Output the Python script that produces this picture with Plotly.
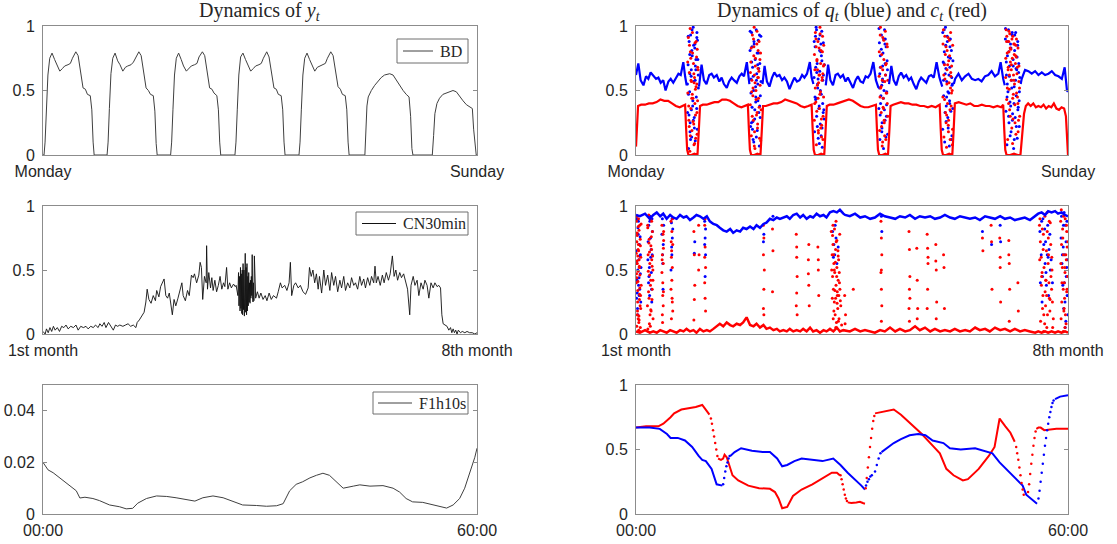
import plotly.graph_objects as go

# ---------------- DATA ----------------
# Top-left: BD (hours from Monday 00:00)
bd_hours = [0.0, 0.4, 0.8, 1.3, 1.9, 2.6, 3.5, 4.5, 5.4, 6.5, 7.5, 8.4, 9.7, 10.6, 11.4, 12.7, 13.6, 14.5, 15.5, 16.4, 17.2, 18.3, 18.9, 19.4, 19.8,
            24.8, 25.2, 25.7, 26.3, 27.0, 27.9, 28.9, 29.8, 30.9, 31.9, 32.8, 34.1, 35.0, 35.8, 37.1, 38.0, 38.9, 39.9, 40.8, 41.6, 42.7, 43.3, 43.8, 44.2,
            49.4, 49.8, 50.3, 50.9, 51.6, 52.5, 53.5, 54.4, 55.5, 56.5, 57.4, 58.7, 59.6, 60.4, 61.7, 62.6, 63.5, 64.5, 65.4, 66.2, 67.3, 67.9, 68.4, 68.8,
            74.3, 74.7, 75.2, 75.8, 76.5, 77.4, 78.4, 79.3, 80.4, 81.4, 82.3, 83.6, 84.5, 85.3, 86.6, 87.5, 88.4, 89.4, 90.3, 91.1, 92.2, 92.8, 93.3, 93.7,
            99.1, 99.5, 100.0, 100.6, 101.3, 102.2, 103.2, 104.1, 105.2, 106.2, 107.1, 108.4, 109.3, 110.1, 111.4, 112.3, 113.2, 114.2, 115.1, 115.9, 117.0, 117.6, 118.1, 118.5,
            124.6, 125.0, 125.4, 125.9, 127.1, 128.4, 129.7, 130.9, 132.2, 134.2, 135.5, 136.8, 138.1, 139.4, 140.6, 141.7, 142.3, 142.8, 143.2,
            150.7, 151.2, 151.7, 152.5, 153.5, 154.8, 156.1, 157.4, 158.7, 160.0, 161.3, 162.6, 163.9, 165.2, 166.2, 166.7, 167.4, 167.7, 168.0]
bd_values = [0.0, 0.0, 0.1, 0.35, 0.62, 0.75, 0.79, 0.74, 0.70, 0.65, 0.67, 0.69, 0.70, 0.71, 0.75, 0.80, 0.77, 0.66, 0.52, 0.51, 0.47, 0.46, 0.35, 0.10, 0.0,
             0.0, 0.1, 0.36, 0.63, 0.75, 0.79, 0.73, 0.70, 0.65, 0.68, 0.69, 0.70, 0.72, 0.75, 0.80, 0.77, 0.65, 0.52, 0.50, 0.47, 0.46, 0.34, 0.09, 0.0,
             0.0, 0.1, 0.35, 0.62, 0.75, 0.79, 0.74, 0.69, 0.65, 0.67, 0.69, 0.70, 0.71, 0.76, 0.80, 0.77, 0.66, 0.52, 0.51, 0.48, 0.46, 0.35, 0.10, 0.0,
             0.0, 0.1, 0.35, 0.62, 0.76, 0.79, 0.74, 0.70, 0.65, 0.67, 0.69, 0.70, 0.71, 0.75, 0.80, 0.76, 0.66, 0.52, 0.51, 0.47, 0.46, 0.35, 0.10, 0.0,
             0.0, 0.1, 0.35, 0.62, 0.75, 0.79, 0.74, 0.70, 0.65, 0.68, 0.69, 0.70, 0.71, 0.75, 0.80, 0.77, 0.66, 0.53, 0.51, 0.47, 0.46, 0.35, 0.10, 0.0,
             0.0, 0.15, 0.38, 0.45, 0.50, 0.54, 0.57, 0.60, 0.62, 0.63, 0.62, 0.58, 0.53, 0.50, 0.47, 0.45, 0.30, 0.05, 0.0,
             0.0, 0.15, 0.32, 0.40, 0.44, 0.47, 0.48, 0.49, 0.50, 0.49, 0.45, 0.42, 0.39, 0.37, 0.36, 0.20, 0.02, 0.0, 0.0]

# Top-right: q_t (blue) line, daytime segments
tr_blue_x = [0.0, 0.9, 1.8, 2.9, 3.9, 4.8, 5.7, 6.7, 7.8, 8.7, 9.6, 10.6, 11.5, 12.6, 13.5, 14.5, 15.6, 16.5, 17.4, 18.4, 19.1, 19.7, None,
             24.5, 25.5, 26.4, 27.4, 28.5, 29.4, 30.3, 31.4, 32.4, 33.3, 34.2, 35.3, 36.2, 37.2, 38.1, 39.2, 40.2, 41.1, 42.0, 43.1, 43.8, 44.1, None,
             49.2, 50.0, 50.9, 51.9, 52.9, 53.8, 54.8, 55.8, 56.8, 57.7, 58.7, 59.7, 60.7, 61.6, 62.6, 63.6, 64.6, 65.5, 66.5, 67.6, 68.3, 69.0, None,
             73.8, 74.7, 75.6, 76.6, 77.6, 78.5, 79.5, 80.5, 81.5, 82.4, 83.4, 84.4, 85.4, 86.3, 87.3, 88.3, 89.3, 90.2, 91.2, 92.3, 93.3, 94.3, None,
             98.4, 99.3, 100.2, 101.2, 102.2, 103.1, 104.1, 105.1, 106.1, 107.0, 108.0, 109.0, 110.0, 110.9, 111.9, 112.9, 113.9, 114.8, 115.8, 116.9, 118.0, 119.1, None,
             123.6, 124.1, 125.4, 126.7, 128.0, 129.3, 130.6, 131.9, 133.1, 134.4, 135.7, 137.0, 138.3, 139.6, 140.9, 141.8, 142.8, 143.4, None,
             149.6, 150.0, 151.3, 152.6, 153.9, 155.2, 156.5, 157.8, 159.1, 160.4, 161.7, 163.0, 164.3, 165.6, 166.7, 167.6, 168.0]
tr_blue_y = [0.62, 0.71, 0.58, 0.54, 0.61, 0.59, 0.64, 0.62, 0.59, 0.60, 0.56, 0.58, 0.50, 0.57, 0.59, 0.56, 0.60, 0.63, 0.62, 0.72, 0.61, 0.54, None,
             0.53, 0.70, 0.58, 0.55, 0.62, 0.63, 0.60, 0.62, 0.57, 0.60, 0.55, 0.52, 0.57, 0.60, 0.58, 0.56, 0.61, 0.63, 0.61, 0.72, 0.60, 0.55, None,
             0.55, 0.69, 0.57, 0.53, 0.60, 0.64, 0.61, 0.62, 0.58, 0.60, 0.57, 0.51, 0.56, 0.60, 0.57, 0.58, 0.62, 0.60, 0.63, 0.72, 0.60, 0.55, None,
             0.54, 0.70, 0.58, 0.54, 0.62, 0.63, 0.60, 0.62, 0.57, 0.60, 0.56, 0.52, 0.58, 0.61, 0.57, 0.56, 0.61, 0.60, 0.63, 0.72, 0.58, 0.52, None,
             0.55, 0.69, 0.58, 0.54, 0.61, 0.64, 0.60, 0.62, 0.58, 0.60, 0.55, 0.51, 0.57, 0.60, 0.58, 0.56, 0.61, 0.62, 0.60, 0.72, 0.60, 0.53, None,
             0.55, 0.59, 0.63, 0.58, 0.61, 0.63, 0.59, 0.58, 0.59, 0.57, 0.61, 0.62, 0.65, 0.61, 0.63, 0.72, 0.59, 0.54, None,
             0.55, 0.59, 0.66, 0.65, 0.63, 0.65, 0.62, 0.64, 0.62, 0.63, 0.65, 0.62, 0.61, 0.59, 0.68, 0.50, 0.49]

# Top-right: c_t (red) line
tr_red_x = [0.0, 0.4, 0.8, 2.0, 3.5, 5.0, 6.5, 8.0, 9.5, 11.0, 12.5, 14.0, 15.5, 17.0, 18.3, 19.1, 19.5, 19.9, 20.4, 21.5, 22.7, 23.9, 24.4, 24.9,
            26.0, 27.5, 29.0, 30.5, 32.0, 33.5, 35.0, 36.5, 38.0, 39.5, 41.0, 42.5, 43.5, 43.9, 44.3, 44.8, 46.0, 47.2, 48.4, 48.9, 49.4,
            50.5, 52.0, 53.5, 55.0, 56.5, 58.0, 59.5, 61.0, 62.5, 64.0, 65.5, 67.0, 68.3, 68.7, 69.1, 69.6, 70.8, 72.0, 73.2, 73.7, 74.2,
            75.3, 76.8, 78.3, 79.8, 81.3, 82.8, 84.3, 85.8, 87.3, 88.8, 90.3, 91.8, 93.3, 93.7, 94.1, 94.6, 95.8, 97.0, 98.0, 98.5, 99.0,
            100.0, 101.5, 103.0, 104.5, 106.0, 107.5, 109.0, 110.5, 112.0, 113.5, 115.0, 116.5, 118.1, 118.5, 118.9, 119.4, 120.6, 121.8, 123.0, 123.5, 124.0,
            125.5, 127.0, 128.5, 130.0, 131.5, 133.0, 134.5, 136.0, 137.5, 139.0, 140.5, 142.0, 142.8, 143.2, 143.6, 144.1, 145.5, 147.0, 148.5, 149.5, 150.2, 150.9, 151.6,
            152.5, 153.5, 154.5, 155.5, 156.5, 157.5, 158.5, 159.5, 160.5, 161.5, 162.5, 163.5, 164.5, 165.5, 166.5, 167.2, 167.6, 168.0]
tr_red_y = [0.065, 0.25, 0.38, 0.39, 0.39, 0.40, 0.40, 0.41, 0.43, 0.42, 0.42, 0.40, 0.38, 0.37, 0.38, 0.39, 0.20, 0.04, 0.0, 0.0, 0.01, 0.0, 0.18, 0.38,
            0.39, 0.39, 0.40, 0.41, 0.41, 0.43, 0.43, 0.42, 0.40, 0.38, 0.37, 0.38, 0.39, 0.20, 0.04, 0.0, 0.0, 0.01, 0.0, 0.18, 0.38,
            0.38, 0.39, 0.40, 0.40, 0.41, 0.43, 0.42, 0.41, 0.40, 0.38, 0.37, 0.38, 0.39, 0.20, 0.04, 0.0, 0.0, 0.01, 0.0, 0.18, 0.38,
            0.39, 0.39, 0.40, 0.41, 0.42, 0.43, 0.42, 0.40, 0.38, 0.37, 0.37, 0.38, 0.39, 0.20, 0.04, 0.0, 0.0, 0.01, 0.0, 0.18, 0.38,
            0.39, 0.40, 0.41, 0.40, 0.40, 0.39, 0.39, 0.38, 0.38, 0.37, 0.38, 0.37, 0.39, 0.20, 0.04, 0.0, 0.0, 0.01, 0.0, 0.18, 0.40,
            0.41, 0.40, 0.39, 0.40, 0.38, 0.38, 0.39, 0.38, 0.38, 0.37, 0.38, 0.37, 0.39, 0.20, 0.04, 0.0, 0.0, 0.01, 0.0, 0.0, 0.15, 0.32, 0.38,
            0.40, 0.38, 0.40, 0.37, 0.38, 0.37, 0.39, 0.36, 0.38, 0.37, 0.40, 0.36, 0.35, 0.37, 0.36, 0.30, 0.10, 0.0]

# Top-right: night-time scattered points
tr_blue_dot_x = [20.0, 20.3, 20.6, 20.9, 21.2, 21.5, 21.8, 22.1, 22.4, 22.7, 23.0, 23.3, 23.6, 23.9, 24.2, 20.4, 21.0, 21.7, 22.3, 23.1, 23.7,
                 20.05, 20.25, 20.45, 20.65, 20.85, 21.05, 21.25, 21.45, 21.65, 21.85, 22.05, 22.25, 22.45, 22.65, 22.85, 23.05, 23.25, 23.45, 23.65, 23.85, 24.05, 24.25, 21.55, 22.95, 20.95,
                 44.4, 44.7, 45.0, 45.3, 45.6, 45.9, 46.2, 46.5, 46.8, 47.1, 47.4, 47.7, 48.0, 48.3, 48.6, 45.1, 45.8, 46.6, 47.3, 48.1, 44.9,
                 44.35, 44.55, 44.75, 44.95, 45.15, 45.35, 45.55, 45.75, 45.95, 46.15, 46.35, 46.55, 46.75, 46.95, 47.15, 47.35, 47.55, 47.75, 47.95, 48.15, 48.35, 48.55, 45.45, 46.85, 47.65,
                 69.3, 69.6, 69.9, 70.2, 70.5, 70.8, 71.1, 71.4, 71.7, 72.0, 72.3, 72.6, 72.9, 73.2, 69.8, 70.6, 71.3, 72.1, 72.8, 70.3, 71.9,
                 69.25, 69.45, 69.65, 69.85, 70.05, 70.25, 70.45, 70.65, 70.85, 71.05, 71.25, 71.45, 71.65, 71.85, 72.05, 72.25, 72.45, 72.65, 72.85, 73.05, 73.25, 70.15, 71.55, 72.35,
                 94.5, 94.8, 95.1, 95.4, 95.7, 96.0, 96.3, 96.6, 96.9, 97.2, 97.5, 97.8, 95.0, 95.6, 96.2, 96.8, 97.4, 94.7, 95.9,
                 94.45, 94.65, 94.85, 95.05, 95.25, 95.45, 95.65, 95.85, 96.05, 96.25, 96.45, 96.65, 96.85, 97.05, 97.25, 97.45, 97.65, 97.85, 95.55, 96.95, 94.95,
                 119.3, 119.6, 119.9, 120.2, 120.5, 120.8, 121.1, 121.4, 121.7, 122.0, 122.3, 122.6, 122.9, 123.2, 119.8, 120.6, 121.3, 122.1, 122.8,
                 119.25, 119.45, 119.65, 119.85, 120.05, 120.25, 120.45, 120.65, 120.85, 121.05, 121.25, 121.45, 121.65, 121.85, 122.05, 122.25, 122.45, 122.65, 122.85, 123.05, 123.25, 120.35, 121.95,
                 143.7, 144.0, 144.3, 144.6, 144.9, 145.2, 145.5, 145.8, 146.1, 146.4, 146.7, 147.0, 147.3, 147.6, 147.9, 148.2, 148.5, 148.8, 149.1, 144.4, 145.0, 145.7, 146.3, 147.1, 147.8, 148.4, 149.0,
                 143.65, 143.85, 144.05, 144.25, 144.45, 144.65, 144.85, 145.05, 145.25, 145.45, 145.65, 145.85, 146.05, 146.25, 146.45, 146.65, 146.85, 147.05, 147.25, 147.45, 147.65, 147.85, 148.05, 148.25, 148.45, 148.65, 148.85, 149.05, 149.25]
tr_blue_dot_y = [0.55, 0.92, 0.31, 0.78, 0.12, 0.66, 0.97, 0.42, 0.85, 0.21, 0.58, 0.74, 0.36, 0.89, 0.62, 0.47, 0.18, 0.81, 0.27, 0.69, 0.95,
                 0.33, 0.70, 0.05, 0.88, 0.49, 0.25, 0.93, 0.61, 0.14, 0.77, 0.38, 0.99, 0.57, 0.29, 0.83, 0.11, 0.66, 0.45, 0.91, 0.20, 0.74, 0.52, 0.35, 0.86, 0.63,
                 0.96, 0.48, 0.72, 0.20, 0.61, 0.88, 0.35, 0.53, 0.14, 0.79, 0.42, 0.67, 0.93, 0.29, 0.57, 0.84, 0.10, 0.45, 0.70, 0.38, 0.25,
                 0.81, 0.22, 0.59, 0.95, 0.37, 0.68, 0.12, 0.50, 0.86, 0.28, 0.74, 0.41, 0.97, 0.63, 0.19, 0.55, 0.89, 0.33, 0.07, 0.71, 0.46, 0.92, 0.26, 0.58, 0.79,
                 0.88, 0.45, 0.68, 0.97, 0.22, 0.59, 0.36, 0.81, 0.50, 0.15, 0.73, 0.40, 0.62, 0.28, 0.92, 0.55, 0.09, 0.77, 0.33, 0.64, 0.86,
                 0.60, 0.18, 0.84, 0.43, 0.99, 0.30, 0.71, 0.52, 0.13, 0.90, 0.38, 0.65, 0.24, 0.80, 0.47, 0.96, 0.06, 0.58, 0.87, 0.35, 0.70, 0.44, 0.93, 0.21,
                 0.98, 0.63, 0.40, 0.82, 0.25, 0.57, 0.90, 0.35, 0.71, 0.14, 0.49, 0.66, 0.77, 0.18, 0.44, 0.86, 0.30, 0.52, 0.69,
                 0.36, 0.87, 0.12, 0.68, 0.46, 0.93, 0.21, 0.59, 0.79, 0.05, 0.50, 0.97, 0.27, 0.62, 0.84, 0.39, 0.73, 0.16, 0.54, 0.90, 0.31,
                 0.95, 0.58, 0.80, 0.33, 0.67, 0.45, 0.88, 0.21, 0.62, 0.40, 0.75, 0.12, 0.54, 0.36, 0.71, 0.26, 0.49, 0.84, 0.60,
                 0.20, 0.72, 0.46, 0.97, 0.10, 0.63, 0.85, 0.38, 0.57, 0.92, 0.29, 0.76, 0.48, 0.07, 0.68, 0.90, 0.34, 0.81, 0.15, 0.55, 0.73, 0.99, 0.42,
                 0.98, 0.72, 0.45, 0.88, 0.30, 0.61, 0.15, 0.83, 0.52, 0.27, 0.69, 0.40, 0.93, 0.58, 0.22, 0.76, 0.35, 0.64, 0.49, 0.55, 0.80, 0.38, 0.95, 0.12, 0.67, 0.85, 0.42,
                 0.90, 0.34, 0.62, 0.08, 0.77, 0.49, 0.97, 0.25, 0.69, 0.41, 0.86, 0.18, 0.58, 0.93, 0.32, 0.74, 0.05, 0.53, 0.81, 0.29, 0.95, 0.46, 0.66, 0.13, 0.88, 0.37, 0.71, 0.22, 0.60]
tr_red_dot_x = [20.1, 20.5, 20.8, 21.1, 21.4, 21.7, 22.0, 22.2, 22.5, 22.8, 23.1, 23.4, 23.7, 24.0, 20.7, 21.3, 21.9, 22.6, 23.2, 23.8, 22.9,
                20.15, 20.35, 20.55, 20.75, 20.95, 21.15, 21.35, 21.55, 21.75, 21.95, 22.15, 22.35, 22.55, 22.75, 22.95, 23.15, 23.35, 23.55, 23.75, 23.95, 24.15, 21.05, 22.45, 23.65,
                44.5, 44.8, 45.2, 45.5, 45.8, 46.1, 46.4, 46.7, 47.0, 47.3, 47.6, 47.9, 48.2, 48.5, 45.0, 45.7, 46.3, 47.1, 47.8, 46.0, 47.5,
                44.45, 44.65, 44.85, 45.05, 45.25, 45.45, 45.65, 45.85, 46.05, 46.25, 46.45, 46.65, 46.85, 47.05, 47.25, 47.45, 47.65, 47.85, 48.05, 48.25, 48.45, 48.65, 45.95, 47.35,
                69.4, 69.7, 70.0, 70.3, 70.6, 70.9, 71.2, 71.5, 71.8, 72.1, 72.4, 72.7, 73.0, 69.5, 70.4, 71.0, 71.6, 72.2, 72.9, 70.8, 71.4, 72.5,
                69.35, 69.55, 69.75, 69.95, 70.15, 70.35, 70.55, 70.75, 70.95, 71.15, 71.35, 71.55, 71.75, 71.95, 72.15, 72.35, 72.55, 72.75, 72.95, 73.15, 70.05, 71.85, 72.65,
                94.6, 94.9, 95.2, 95.5, 95.8, 96.1, 96.4, 96.7, 97.0, 97.3, 97.6, 97.9, 95.3, 96.0, 96.5, 97.1, 97.7, 95.9,
                94.55, 94.75, 94.95, 95.15, 95.35, 95.55, 95.75, 95.95, 96.15, 96.35, 96.55, 96.75, 96.95, 97.15, 97.35, 97.55, 97.75, 97.95, 96.25, 95.05,
                119.4, 119.7, 120.0, 120.3, 120.6, 120.9, 121.2, 121.5, 121.8, 122.1, 122.4, 122.7, 123.0, 120.1, 120.8, 121.6, 122.3, 123.1, 121.0,
                119.35, 119.55, 119.75, 119.95, 120.15, 120.35, 120.55, 120.75, 120.95, 121.15, 121.35, 121.55, 121.75, 121.95, 122.15, 122.35, 122.55, 122.75, 122.95, 123.15, 121.45, 122.45,
                143.8, 144.1, 144.4, 144.7, 145.0, 145.3, 145.6, 145.9, 146.2, 146.5, 146.8, 147.1, 147.4, 147.7, 148.0, 148.3, 148.6, 148.9, 149.2, 144.2, 144.9, 145.5, 146.0, 146.6, 147.2, 147.9, 148.5, 145.2, 146.9,
                143.75, 143.95, 144.15, 144.35, 144.55, 144.75, 144.95, 145.15, 145.35, 145.55, 145.75, 145.95, 146.15, 146.35, 146.55, 146.75, 146.95, 147.15, 147.35, 147.55, 147.75, 147.95, 148.15, 148.35, 148.55, 148.75, 148.95, 149.15, 145.05, 146.45, 147.65]
tr_red_dot_y = [0.72, 0.38, 0.85, 0.15, 0.58, 0.44, 0.79, 0.26, 0.63, 0.09, 0.51, 0.88, 0.33, 0.68, 0.22, 0.75, 0.47, 0.56, 0.13, 0.82, 0.40,
                0.48, 0.91, 0.27, 0.64, 0.03, 0.80, 0.36, 0.57, 0.19, 0.95, 0.44, 0.71, 0.08, 0.60, 0.87, 0.31, 0.53, 0.76, 0.16, 0.42, 0.66, 0.98, 0.24, 0.55,
                0.64, 0.83, 0.30, 0.52, 0.77, 0.18, 0.69, 0.43, 0.86, 0.24, 0.60, 0.37, 0.74, 0.11, 0.49, 0.90, 0.56, 0.33, 0.65, 0.07, 0.81,
                0.39, 0.72, 0.15, 0.58, 0.93, 0.46, 0.27, 0.84, 0.62, 0.05, 0.75, 0.50, 0.31, 0.96, 0.21, 0.67, 0.44, 0.88, 0.13, 0.54, 0.79, 0.35, 0.99, 0.60,
                0.78, 0.52, 0.90, 0.34, 0.66, 0.19, 0.83, 0.47, 0.71, 0.28, 0.60, 0.12, 0.85, 0.40, 0.74, 0.56, 0.94, 0.23, 0.69, 0.44, 0.62, 0.80,
                0.27, 0.66, 0.95, 0.41, 0.08, 0.73, 0.54, 0.88, 0.17, 0.62, 0.36, 0.99, 0.49, 0.81, 0.14, 0.58, 0.92, 0.30, 0.45, 0.70, 0.84, 0.21, 0.63,
                0.80, 0.45, 0.68, 0.22, 0.58, 0.37, 0.74, 0.15, 0.62, 0.48, 0.86, 0.30, 0.53, 0.91, 0.27, 0.70, 0.40, 0.10,
                0.61, 0.19, 0.93, 0.52, 0.33, 0.78, 0.07, 0.66, 0.44, 0.89, 0.25, 0.57, 0.96, 0.12, 0.71, 0.48, 0.84, 0.58, 0.36, 0.99,
                0.86, 0.62, 0.43, 0.78, 0.25, 0.55, 0.70, 0.18, 0.89, 0.35, 0.64, 0.48, 0.08, 0.92, 0.31, 0.73, 0.52, 0.20, 0.81,
                0.45, 0.97, 0.14, 0.70, 0.59, 0.33, 0.84, 0.06, 0.66, 0.40, 0.91, 0.27, 0.56, 0.77, 0.12, 0.95, 0.38, 0.69, 0.50, 0.85, 0.23, 0.61,
                0.75, 0.88, 0.52, 0.66, 0.80, 0.35, 0.72, 0.58, 0.90, 0.44, 0.62, 0.78, 0.25, 0.85, 0.48, 0.68, 0.18, 0.57, 0.30, 0.92, 0.40, 0.83, 0.70, 0.28, 0.55, 0.76, 0.40, 0.62, 0.86,
                0.60, 0.97, 0.43, 0.79, 0.12, 0.68, 0.88, 0.51, 0.94, 0.30, 0.82, 0.66, 0.21, 0.75, 0.92, 0.47, 0.58, 0.86, 0.39, 0.71, 0.16, 0.90, 0.63, 0.45, 0.83, 0.27, 0.69, 0.52, 0.96, 0.09, 0.77]

# Middle-left: CN30min (position in % of the 1st..8th month span)
cn_pos = [0.0, 0.5, 0.8, 1.2, 1.6, 2.0, 2.4, 2.8, 3.3, 3.8, 4.3, 4.8, 5.3, 5.8, 6.4, 7.0, 7.6, 8.1, 8.7, 9.3, 9.9, 10.4, 11.0, 11.6, 12.1, 12.7,
          13.1, 13.6, 14.1, 14.5, 15.1, 15.6, 16.2, 16.7, 17.2, 17.7, 18.4, 19.0, 19.6, 20.2, 20.8, 21.4, 21.7, 22.2, 22.7, 23.3, 23.7, 24.0,
          24.4, 24.9, 25.4, 25.9, 26.2, 26.7, 27.1, 27.6, 27.9, 28.3, 28.7, 29.1, 29.5, 29.8, 30.2, 30.6, 31.1, 31.6, 32.0, 32.3, 32.8, 33.3,
          33.7, 34.2, 34.6, 34.9, 35.4, 35.9, 36.2, 36.5, 36.8, 37.2, 37.6, 37.7, 37.9, 38.2, 38.6, 38.9, 39.2, 39.6, 40.0, 40.4, 40.8, 41.2,
          41.6, 41.9, 42.3, 42.6, 43.0, 43.4, 43.9, 44.3, 44.5,
          44.9, 45.05, 45.15, 45.3, 45.4, 45.5, 45.6, 45.7, 45.8, 45.9, 46.0, 46.1, 46.2, 46.3, 46.4, 46.5, 46.6, 46.7, 46.8, 46.9,
          47.0, 47.1, 47.2, 47.3, 47.4, 47.5, 47.6, 47.7, 47.8, 47.9, 48.0, 48.1, 48.2, 48.3, 48.4, 48.5, 48.6, 48.7,
          49.0, 49.4, 49.8, 50.2, 50.7, 51.2, 51.6, 52.1, 52.6, 53.1, 53.8, 54.2, 54.7, 55.1, 55.7, 56.2, 56.7,
          57.0, 57.3, 57.8, 58.2, 58.8, 59.3, 59.9, 60.5, 61.1, 61.4, 61.8, 62.2, 62.6, 63.0, 63.4, 63.7, 64.2, 64.7, 65.1, 65.6, 66.1, 66.5,
          67.0, 67.4, 67.9, 68.4, 68.8, 69.3, 69.7, 70.2, 70.7, 71.1, 71.6, 72.0, 72.5, 73.0, 73.4, 73.9, 74.3, 74.8, 75.3, 75.7, 76.2, 76.5,
          76.8, 77.2, 77.7, 78.2, 78.6, 79.1, 79.6, 80.0, 80.5, 80.9, 81.3, 81.7, 82.2, 82.6, 83.1, 83.6, 84.0, 84.5, 84.8, 85.3, 85.7, 86.2,
          86.6, 87.1, 87.6, 88.0, 88.5, 88.9, 89.4, 89.9, 90.3, 90.8, 91.2, 91.6, 91.9, 92.2, 92.6, 93.1, 93.5, 93.9, 94.2, 94.5, 94.8, 95.1,
          95.4, 95.7, 96.2, 96.6, 97.2, 97.7, 98.3, 98.9, 99.5, 100.0]
cn_val = [0.02, 0.0, 0.04, 0.01, 0.05, 0.02, 0.06, 0.03, 0.05, 0.02, 0.06, 0.05, 0.07, 0.04, 0.06, 0.05, 0.07, 0.03, 0.06, 0.05, 0.06, 0.04, 0.06, 0.05, 0.07, 0.05,
          0.08, 0.06, 0.09, 0.05, 0.09, 0.06, 0.03, 0.07, 0.06, 0.07, 0.06, 0.07, 0.08, 0.06, 0.07, 0.05, 0.09, 0.11, 0.14, 0.17, 0.25, 0.35,
          0.27, 0.24, 0.30, 0.26, 0.34, 0.29, 0.37, 0.41, 0.43, 0.30, 0.28, 0.32, 0.22, 0.15, 0.27, 0.22, 0.28, 0.35, 0.40, 0.30, 0.26, 0.34,
          0.30, 0.46, 0.44, 0.47, 0.40, 0.46, 0.56, 0.52, 0.27, 0.45, 0.40, 0.69, 0.35, 0.48, 0.36, 0.44, 0.34, 0.42, 0.33, 0.38, 0.45, 0.35,
          0.40, 0.37, 0.52, 0.35, 0.40, 0.36, 0.39, 0.37, 0.38,
          0.30, 0.48, 0.22, 0.45, 0.18, 0.52, 0.20, 0.47, 0.16, 0.50, 0.15, 0.55, 0.19, 0.50, 0.14, 0.58, 0.63, 0.17, 0.52, 0.15,
          0.55, 0.18, 0.45, 0.22, 0.48, 0.25, 0.40, 0.24, 0.42, 0.28, 0.45, 0.30, 0.62, 0.27, 0.25, 0.40, 0.26, 0.61,
          0.28, 0.33, 0.28, 0.32, 0.27, 0.30, 0.26, 0.32, 0.27, 0.30, 0.28, 0.33, 0.40, 0.36, 0.38, 0.34, 0.40,
          0.56, 0.30, 0.38, 0.40, 0.36, 0.38, 0.33, 0.31, 0.36, 0.52, 0.45, 0.50, 0.40, 0.47, 0.35, 0.45, 0.32, 0.50, 0.38, 0.46, 0.34, 0.48,
          0.38, 0.45, 0.33, 0.42, 0.36, 0.45, 0.34, 0.40, 0.36, 0.44, 0.38, 0.40, 0.35, 0.45, 0.38, 0.43, 0.36, 0.44, 0.38, 0.45, 0.40, 0.53,
          0.40, 0.45, 0.38, 0.46, 0.40, 0.48, 0.42, 0.47, 0.61, 0.45, 0.50, 0.42, 0.48, 0.44, 0.47, 0.40, 0.35, 0.15, 0.38, 0.45, 0.38, 0.42,
          0.30, 0.40, 0.35, 0.42, 0.38, 0.28, 0.40, 0.36, 0.40, 0.37, 0.38, 0.36, 0.15, 0.08, 0.07, 0.06, 0.03, 0.05, 0.01, 0.04, 0.01, 0.03,
          0.0, 0.03, 0.01, 0.02, 0.01, 0.02, 0.01, 0.01, 0.0, 0.01]

# Middle-right: q_t (blue) and c_t (red) lines
mr_blue_pos = [0.0, 0.9, 2.1, 3.2, 4.0, 4.8, 5.6, 6.3, 7.1, 7.9, 8.6, 9.4, 10.2, 11.0, 11.7, 12.5, 13.3, 14.0, 14.8, 15.6, 16.4, 17.1, 17.9,
               18.7, 19.4, 20.2, 21.0, 21.8, 22.5, 23.3, 24.1, 24.8, 25.6, 26.4, 27.2, 27.9, 28.7, 29.5, 30.2, 31.0, 31.8, 32.6, 33.3, 34.1,
               34.9, 35.6, 36.4, 37.2, 38.0, 38.7, 39.5, 40.3, 41.0, 41.8, 42.6, 43.4, 44.1, 44.9, 45.7, 46.5, 47.2, 48.0, 48.4, 49.5, 50.7,
               51.9, 53.0, 54.2, 55.3, 56.5, 57.6, 58.8, 60.0, 61.1, 62.3, 63.4, 64.6, 65.7, 66.9, 68.1, 69.2, 70.4, 71.5, 72.7, 73.8, 75.0,
               76.2, 77.3, 78.5, 79.6, 80.8, 81.9, 83.1, 84.3, 85.4, 86.6, 87.7, 88.9, 90.0, 91.2, 92.4, 93.1, 93.9, 94.7, 95.4, 96.2, 97.0,
               97.7, 98.5, 99.3, 100.0]
mr_blue_val = [0.93, 0.92, 0.94, 0.90, 0.93, 0.95, 0.92, 0.94, 0.90, 0.93, 0.91, 0.90, 0.93, 0.91, 0.92, 0.89, 0.91, 0.93, 0.92, 0.90, 0.92, 0.88, 0.86,
               0.85, 0.83, 0.81, 0.80, 0.82, 0.79, 0.81, 0.80, 0.83, 0.82, 0.84, 0.82, 0.85, 0.83, 0.86, 0.87, 0.90, 0.89, 0.91, 0.90, 0.91,
               0.92, 0.90, 0.93, 0.94, 0.91, 0.93, 0.90, 0.92, 0.91, 0.94, 0.92, 0.93, 0.91, 0.95, 0.96, 0.95, 0.97, 0.94, 0.93, 0.92, 0.94,
               0.91, 0.92, 0.90, 0.91, 0.94, 0.92, 0.91, 0.90, 0.92, 0.91, 0.93, 0.90, 0.92, 0.91, 0.92, 0.90, 0.91, 0.93, 0.91, 0.90, 0.92,
               0.91, 0.90, 0.91, 0.89, 0.92, 0.91, 0.90, 0.92, 0.90, 0.91, 0.89, 0.90, 0.91, 0.89, 0.92, 0.94, 0.95, 0.93, 0.96, 0.95, 0.96,
               0.94, 0.95, 0.93, 0.92]
mr_red_pos = [0.0, 0.9, 2.1, 3.2, 4.0, 4.8, 5.6, 6.3, 7.1, 7.9, 8.6, 9.4, 10.2, 11.0, 11.7, 12.5, 13.3, 14.0, 14.8, 15.6, 16.4, 17.1, 17.9,
              18.7, 19.4, 20.2, 21.0, 21.8, 22.5, 23.3, 24.1, 24.8, 25.6, 26.4, 27.2, 27.9, 28.7, 29.5, 30.2, 31.0, 31.8, 32.6, 33.3, 34.1,
              34.9, 35.6, 36.4, 37.2, 38.0, 38.7, 39.5, 40.3, 41.0, 41.8, 42.6, 43.4, 44.1, 44.9, 45.7, 46.5, 47.2, 48.0, 49.5, 50.7, 51.9,
              53.0, 54.2, 55.3, 56.5, 57.6, 58.8, 60.0, 61.1, 62.3, 63.4, 64.6, 65.7, 66.9, 68.1, 69.2, 70.4, 71.5, 72.7, 73.8, 75.0, 76.2,
              77.3, 78.5, 79.6, 80.8, 81.9, 83.1, 84.3, 85.4, 86.6, 87.7, 88.9, 90.0, 91.2, 92.4, 93.1, 93.9, 94.7, 95.4, 96.2, 97.0, 97.7,
              98.5, 99.3, 100.0]
mr_red_val = [0.02, 0.01, 0.03, 0.01, 0.02, 0.01, 0.03, 0.02, 0.01, 0.03, 0.02, 0.01, 0.03, 0.02, 0.04, 0.02, 0.03, 0.01, 0.04, 0.02, 0.03, 0.02, 0.04,
              0.06, 0.08, 0.06, 0.09, 0.07, 0.06, 0.08, 0.07, 0.09, 0.13, 0.07, 0.06, 0.08, 0.05, 0.07, 0.04, 0.05, 0.03, 0.04, 0.02, 0.03,
              0.02, 0.04, 0.02, 0.03, 0.02, 0.04, 0.02, 0.05, 0.02, 0.03, 0.01, 0.03, 0.02, 0.04, 0.02, 0.05, 0.02, 0.03, 0.02, 0.04, 0.02,
              0.03, 0.02, 0.01, 0.03, 0.02, 0.05, 0.02, 0.04, 0.02, 0.03, 0.06, 0.03, 0.05, 0.02, 0.04, 0.02, 0.03, 0.02, 0.04, 0.02, 0.03,
              0.02, 0.05, 0.03, 0.04, 0.02, 0.05, 0.03, 0.04, 0.02, 0.04, 0.02, 0.03, 0.02, 0.01, 0.02, 0.01, 0.02, 0.01, 0.02, 0.01, 0.02,
              0.01, 0.02, 0.01]

# Middle-right: scattered points
mr_red_dot_x = [0.1, 0.2, 0.3, 0.4, 0.5, 0.6, 0.7, 0.8, 0.9, 1.0, 1.1, 1.2, 0.15, 0.35, 0.55, 0.75, 0.95, 0.25, 0.45, 0.65, 0.85, 1.05, 0.05, 0.5, 0.3, 0.7, 0.9, 0.2,
                0.08, 0.18, 0.28, 0.38, 0.48, 0.58, 0.68, 0.78, 0.88, 0.98, 1.08, 1.18, 0.12, 0.42, 0.62, 0.82, 1.02, 0.22, 0.52, 0.72,
                2.7, 2.8, 2.9, 3.0, 3.1, 3.2, 3.3, 3.4, 3.5, 3.6, 3.7, 3.8, 3.9, 2.75, 3.05, 3.35, 3.65, 3.95, 3.15, 3.45,
                2.65, 2.85, 2.95, 3.25, 3.55, 3.75, 3.85, 2.72, 3.02, 3.32, 3.62, 3.92, 3.12, 3.42, 3.72,
                6.0, 6.1, 6.2, 6.3, 6.4, 6.1, 6.3, 6.2, 6.0, 6.4, 6.15, 6.35, 6.05, 6.25, 6.35,
                8.1, 8.2, 8.3, 8.4, 8.5, 8.2, 8.4, 8.3, 8.1, 8.5, 8.25, 8.15, 8.35, 8.45,
                13.4, 13.5, 13.6, 13.5, 13.4, 14.5, 14.6, 14.5,
                15.9, 16.0, 16.1, 15.9, 16.0, 16.1, 16.0, 15.9,
                29.5, 29.6, 29.5, 29.7, 29.6, 29.5, 29.6, 31.6, 31.7, 31.6,
                37.1, 37.2, 37.3, 37.2, 37.1, 37.3, 37.2, 39.9, 40.0, 40.1, 40.0, 39.9, 42.1, 42.2, 42.3, 42.2,
                45.2, 45.4, 45.5, 45.6, 45.7, 45.8, 45.9, 46.0, 46.1, 46.2, 46.3, 46.4, 46.5, 46.6, 46.7, 46.8, 46.9, 47.0, 47.2, 47.4, 47.6,
                45.6, 45.9, 46.2, 46.5, 46.8, 47.1, 45.8, 46.3, 46.6, 47.3, 45.5, 48.3, 48.5, 48.4, 50.3,
                45.3, 45.45, 45.65, 45.75, 45.95, 46.05, 46.15, 46.25, 46.35, 46.45, 46.55, 46.75, 46.85, 46.95, 47.05, 47.15,
                56.7, 56.8, 56.9, 56.8, 56.7, 56.8, 56.9, 56.8, 63.2, 63.3, 63.4, 63.3, 63.2, 63.3, 63.4, 65.0, 65.1, 65.2, 65.1,
                67.4, 67.5, 67.6, 67.5, 67.4, 67.6, 69.4, 69.5, 69.6, 69.5, 69.4, 71.3, 71.4, 71.2,
                80.2, 80.3, 82.2, 82.3, 82.4, 84.2, 84.3, 84.4, 84.3, 86.3, 86.4, 86.5, 86.4, 86.3, 88.4, 88.5,
                93.4, 93.6, 93.8, 94.0, 94.2, 94.4, 94.6, 94.8, 95.0, 95.2, 95.4, 95.6, 95.8, 96.0, 96.2, 96.4, 96.6, 93.5, 93.9, 94.3, 94.7,
                95.1, 95.5, 95.9, 96.3, 94.1, 94.9, 95.7,
                93.45, 93.65, 93.85, 94.05, 94.25, 94.45, 94.65, 94.85, 95.05, 95.25, 95.45, 95.65, 95.85, 96.05, 96.25, 96.45, 94.35, 95.15,
                98.3, 98.5, 98.7, 98.9, 99.1, 99.3, 99.5, 99.7, 99.9, 98.4, 98.8, 99.2, 99.6, 98.6, 99.0, 99.4, 99.8, 98.9, 99.3, 99.7,
                98.35, 98.55, 98.75, 98.95, 99.15, 99.35, 99.55, 99.75, 99.95, 98.45, 99.05, 99.65, 99.25]
mr_red_dot_y = [0.88, 0.72, 0.55, 0.34, 0.12, 0.65, 0.81, 0.27, 0.46, 0.05, 0.60, 0.38, 0.92, 0.18, 0.70, 0.52, 0.22, 0.77, 0.41, 0.09, 0.85, 0.30, 0.63, 0.49, 0.15, 0.58, 0.02, 0.44,
                0.40, 0.06, 0.79, 0.25, 0.66, 0.90, 0.14, 0.53, 0.36, 0.74, 0.20, 0.86, 0.47, 0.61, 0.03, 0.31, 0.69, 0.57, 0.84, 0.11,
                0.85, 0.62, 0.33, 0.71, 0.08, 0.55, 0.90, 0.42, 0.18, 0.66, 0.27, 0.80, 0.50, 0.04, 0.74, 0.38, 0.58, 0.12, 0.46, 0.69,
                0.22, 0.49, 0.93, 0.15, 0.76, 0.35, 0.61, 0.83, 0.28, 0.06, 0.88, 0.42, 0.64, 0.19, 0.53,
                0.85, 0.62, 0.40, 0.22, 0.73, 0.15, 0.55, 0.30, 0.48, 0.80, 0.09, 0.67, 0.58, 0.78, 0.33,
                0.88, 0.60, 0.42, 0.25, 0.70, 0.12, 0.52, 0.80, 0.35, 0.18, 0.65, 0.72, 0.28, 0.90,
                0.80, 0.62, 0.38, 0.27, 0.11, 0.85, 0.62, 0.50,
                0.85, 0.68, 0.52, 0.40, 0.28, 0.18, 0.90, 0.60,
                0.85, 0.75, 0.62, 0.50, 0.35, 0.20, 0.15, 0.82, 0.65, 0.33,
                0.78, 0.60, 0.45, 0.32, 0.22, 0.15, 0.68, 0.58, 0.38, 0.22, 0.70, 0.47, 0.68, 0.50, 0.30, 0.58,
                0.80, 0.62, 0.45, 0.70, 0.35, 0.55, 0.25, 0.48, 0.15, 0.66, 0.38, 0.09, 0.52, 0.30, 0.20, 0.42, 0.58, 0.12, 0.35, 0.22, 0.07,
                0.85, 0.50, 0.28, 0.73, 0.61, 0.40, 0.18, 0.88, 0.33, 0.26, 0.77, 0.30, 0.15, 0.08, 0.35,
                0.50, 0.28, 0.12, 0.62, 0.82, 0.34, 0.56, 0.05, 0.72, 0.45, 0.24, 0.65, 0.10, 0.30, 0.48, 0.78,
                0.88, 0.75, 0.62, 0.50, 0.48, 0.35, 0.22, 0.10, 0.80, 0.66, 0.45, 0.35, 0.20, 0.10, 0.28, 0.67, 0.42, 0.20, 0.12,
                0.78, 0.67, 0.55, 0.35, 0.20, 0.60, 0.70, 0.50, 0.25, 0.12, 0.57, 0.52, 0.20, 0.62,
                0.75, 0.65, 0.85, 0.72, 0.35, 0.75, 0.60, 0.25, 0.52, 0.73, 0.55, 0.35, 0.10, 0.62, 0.40, 0.18,
                0.85, 0.72, 0.60, 0.48, 0.30, 0.15, 0.08, 0.22, 0.65, 0.80, 0.55, 0.40, 0.18, 0.70, 0.35, 0.25, 0.12, 0.90, 0.45, 0.78, 0.33,
                0.05, 0.62, 0.87, 0.50, 0.20, 0.42, 0.28,
                0.58, 0.10, 0.38, 0.82, 0.66, 0.52, 0.92, 0.42, 0.30, 0.15, 0.75, 0.88, 0.27, 0.45, 0.60, 0.05, 0.02, 0.95,
                0.88, 0.70, 0.52, 0.35, 0.20, 0.05, 0.62, 0.80, 0.45, 0.12, 0.75, 0.28, 0.58, 0.40, 0.92, 0.15, 0.68, 0.02, 0.48, 0.33,
                0.55, 0.25, 0.82, 0.62, 0.40, 0.90, 0.08, 0.35, 0.72, 0.97, 0.18, 0.85, 0.52]
mr_blue_dot_x = [0.1, 0.3, 0.5, 0.7, 0.9, 1.1, 0.2, 0.4, 0.6, 0.8, 1.0, 0.15, 0.45,
                 0.05, 0.25, 0.35, 0.55, 0.65, 0.85, 0.95, 1.15, 0.12, 0.42, 0.72, 1.02,
                 2.8, 3.0, 3.2, 3.4, 3.6, 3.8, 3.1, 3.5, 2.9, 3.7, 2.75, 2.95, 3.15, 3.35, 3.55, 3.75, 3.25, 3.65,
                 6.1, 6.3, 6.2, 6.0, 6.4, 6.25, 6.15, 8.2, 8.4, 8.3, 8.1, 8.5, 8.25, 8.35,
                 13.5, 13.6, 15.9, 16.0, 16.1, 16.0, 15.9, 16.1, 29.6, 29.5, 31.7,
                 45.5, 45.8, 46.0, 46.3, 46.5, 46.8, 46.1, 45.7, 56.8, 56.9,
                 80.2, 82.3, 84.3, 84.4,
                 93.5, 93.8, 94.1, 94.4, 94.7, 95.0, 95.3, 95.6, 95.9, 94.2, 94.8, 95.4,
                 93.6, 93.9, 94.0, 94.6, 94.9, 95.2, 95.5, 95.8, 96.1, 96.4,
                 98.4, 98.6, 98.8, 99.0, 99.2, 99.4, 99.6, 99.8, 99.1, 99.5, 98.9, 99.7, 99.3,
                 98.5, 98.7, 98.95, 99.15, 99.35, 99.55, 99.75, 99.95, 99.85]
mr_blue_dot_y = [0.55, 0.32, 0.78, 0.44, 0.61, 0.25, 0.90, 0.50, 0.38, 0.70, 0.47, 0.28, 0.83,
                 0.65, 0.42, 0.20, 0.88, 0.58, 0.35, 0.76, 0.52, 0.92, 0.15, 0.30, 0.62,
                 0.72, 0.45, 0.88, 0.60, 0.35, 0.80, 0.52, 0.66, 0.40, 0.90, 0.58, 0.85, 0.30, 0.75, 0.48, 0.62, 0.92, 0.25,
                 0.90, 0.70, 0.55, 0.78, 0.85, 0.35, 0.62, 0.87, 0.75, 0.62, 0.50, 0.82, 0.68, 0.90,
                 0.63, 0.72, 0.88, 0.75, 0.62, 0.45, 0.70, 0.82, 0.78, 0.72, 0.92,
                 0.80, 0.70, 0.62, 0.75, 0.55, 0.68, 0.85, 0.60, 0.92, 0.80,
                 0.80, 0.70, 0.85, 0.72,
                 0.80, 0.62, 0.45, 0.70, 0.55, 0.38, 0.85, 0.66, 0.50, 0.90, 0.72, 0.60,
                 0.40, 0.88, 0.25, 0.82, 0.48, 0.62, 0.30, 0.78, 0.58, 0.40,
                 0.75, 0.55, 0.38, 0.20, 0.62, 0.85, 0.45, 0.30, 0.95, 0.10, 0.68, 0.52, 0.25,
                 0.92, 0.62, 0.85, 0.40, 0.05, 0.72, 0.88, 0.15, 0.58]

# Bottom-left: F1h10s (minutes)
f1_min = [0.0, 0.7, 1.4, 2.3, 3.2, 4.1, 4.6, 5.1, 5.8, 6.9, 7.8, 9.2, 10.6, 11.5, 12.4, 13.1, 14.3, 15.7, 17.1, 18.4, 19.8, 21.0, 22.1,
          23.5, 24.9, 26.3, 27.6, 29.5, 30.9, 32.3, 33.2, 34.1, 35.0, 35.9, 36.9, 37.8, 38.7, 39.6, 40.6, 41.5, 42.9, 43.8, 45.2, 47.0,
          48.4, 49.3, 50.2, 51.1, 52.5, 53.9, 55.8, 56.7, 57.6, 58.3, 59.0, 59.7, 60.0]
f1_val = [0.0200, 0.0171, 0.0160, 0.0140, 0.0120, 0.0102, 0.0090, 0.0062, 0.0065, 0.0060, 0.0052, 0.0035, 0.0028, 0.0020, 0.0022, 0.0042,
          0.0060, 0.0070, 0.0068, 0.0063, 0.0055, 0.0050, 0.0063, 0.0070, 0.0063, 0.0050, 0.0035, 0.0033, 0.0030, 0.0032, 0.0040, 0.0090,
          0.0115, 0.0125, 0.0140, 0.0150, 0.0158, 0.0150, 0.0125, 0.0100, 0.0108, 0.0113, 0.0108, 0.0110, 0.0100, 0.0085, 0.0060, 0.0047,
          0.0045, 0.0035, 0.0023, 0.0035, 0.0060, 0.0100, 0.0160, 0.0220, 0.0255]

# Bottom-right: q_t (blue) and c_t (red), minutes; solid segments separated by None
br_red_x = [0.0, 1.4, 3.1, 3.8, 4.8, 5.3, 6.3, 7.3, 8.3, 9.2, 9.7, 10.2, None,
            11.4, 11.8, 12.1, 12.3, 12.6, 12.9, 13.4, 14.2, 15.6, 17.1, 18.6, 19.3, 19.8, 20.3, 21.0, 21.8, 23.0, 24.5, 25.9, 27.2, 27.9, 28.3, None,
            29.4, 29.9, 30.6, 31.1, 31.5, 31.8, None,
            33.2, 35.8, 36.8, 38.2, 39.7, 41.2, 42.2, 43.1, 44.1, 45.4, 46.1, 47.6, 49.0, 49.8, 50.5, 51.3, 52.0, 52.6, None,
            55.6, 55.9, 56.2, 56.7, 58.4, 60.0]
br_red_y = [0.67, 0.68, 0.68, 0.70, 0.75, 0.78, 0.81, 0.82, 0.83, 0.845, 0.81, 0.77, None,
            0.43, 0.42, 0.43, 0.46, 0.44, 0.38, 0.30, 0.26, 0.22, 0.20, 0.195, 0.17, 0.12, 0.045, 0.055, 0.14, 0.19, 0.23, 0.28, 0.32, 0.32, 0.30, None,
            0.09, 0.085, 0.09, 0.095, 0.085, 0.08, None,
            0.78, 0.81, 0.77, 0.70, 0.62, 0.53, 0.47, 0.35, 0.30, 0.26, 0.27, 0.35, 0.45, 0.52, 0.74, 0.68, 0.63, 0.56, None,
            0.66, 0.67, 0.67, 0.65, 0.66, 0.66]
br_red_dot_x = [10.4, 10.55, 10.7, 10.85, 11.0, 11.15, 11.3,
                28.4, 28.55, 28.7, 28.85, 29.0, 29.15, 29.3,
                31.9, 32.05, 32.2, 32.35, 32.5, 32.65, 32.8, 32.95, 33.1,
                52.8, 52.95, 53.1, 53.25, 53.4, 53.55, 53.7, 53.85,
                54.45, 54.6, 54.75, 54.9, 55.05, 55.2, 55.35, 55.5]
br_red_dot_y = [0.74, 0.70, 0.65, 0.60, 0.55, 0.50, 0.45,
                0.30, 0.27, 0.23, 0.19, 0.15, 0.12, 0.10,
                0.20, 0.28, 0.36, 0.44, 0.52, 0.59, 0.66, 0.72, 0.76,
                0.52, 0.47, 0.42, 0.36, 0.30, 0.24, 0.19, 0.15,
                0.17, 0.23, 0.31, 0.39, 0.46, 0.53, 0.59, 0.64]
br_blue_x = [0.0, 1.9, 3.3, 4.3, 4.8, 5.8, 6.8, 7.8, 8.7, 9.2, 9.7, 10.5, 11.2, 12.0, None,
             13.1, 13.7, 14.6, 16.1, 17.6, 18.6, 19.6, 20.3, 21.0, 22.0, 23.0, 24.9, 25.9, 27.4, 28.4, 29.4, 30.4, 31.3, 31.8, None,
             34.1, 34.8, 35.8, 36.8, 38.0, 39.2, 40.2, 41.2, 42.7, 43.6, 45.1, 47.1, 48.5, 49.5, 50.5, 51.7, 52.7, 53.7, 54.2, 54.9, 55.7, None,
             58.2, 58.9, 60.0]
br_blue_y = [0.67, 0.67, 0.66, 0.62, 0.59, 0.59, 0.57, 0.52, 0.45, 0.42, 0.41, 0.35, 0.23, 0.22, None,
             0.45, 0.48, 0.51, 0.49, 0.48, 0.48, 0.43, 0.37, 0.38, 0.41, 0.43, 0.42, 0.41, 0.43, 0.38, 0.32, 0.27, 0.22, 0.19, None,
             0.48, 0.51, 0.55, 0.58, 0.61, 0.62, 0.61, 0.57, 0.55, 0.51, 0.50, 0.51, 0.49, 0.47, 0.40, 0.33, 0.28, 0.22, 0.15, 0.12, 0.08, None,
             0.89, 0.91, 0.92]
br_blue_dot_x = [12.1, 12.25, 12.4, 12.55, 12.7, 12.85, 13.0,
                 31.95, 32.15, 32.35, 32.55, 32.75, 33.2, 33.45, 33.7, 33.95,
                 55.9, 56.05, 56.2, 56.35, 56.5, 56.65, 56.8, 56.95, 57.1, 57.25, 57.4, 57.55, 57.7, 57.85, 58.0]
br_blue_dot_y = [0.23, 0.28, 0.33, 0.37, 0.40, 0.43, 0.45,
                 0.22, 0.25, 0.27, 0.29, 0.30, 0.33, 0.38, 0.43, 0.47,
                 0.12, 0.18, 0.25, 0.32, 0.39, 0.46, 0.53, 0.59, 0.65, 0.70, 0.75, 0.79, 0.83, 0.86, 0.88]

# Tick labels and legend names
week_ticks = ["Monday", "Sunday"]
month_ticks = ["1st month", "8th month"]
minute_ticks = ["00:00", "60:00"]
legend_names = ["BD", "CN30min", "F1h10s"]

# ---------------- FIGURE ----------------
BLUE = "rgb(0,0,255)"
RED = "rgb(255,0,0)"
GREY_LINE = "#404040"

fig = go.Figure()

def line(x, y, ax, color, width, name=None):
    fig.add_trace(go.Scatter(x=x, y=y, mode="lines", line=dict(color=color, width=width),
                             xaxis="x" + ax, yaxis="y" + ax, name=name, showlegend=False,
                             hoverinfo="skip", connectgaps=False))

def dots(x, y, ax, color, size=3):
    fig.add_trace(go.Scatter(x=x, y=y, mode="markers", marker=dict(color=color, size=size, line=dict(width=0)),
                             xaxis="x" + ax, yaxis="y" + ax, showlegend=False, hoverinfo="skip"))

# top-left
line(bd_hours, bd_values, "", GREY_LINE, 1, legend_names[0])
# top-right
dots(tr_blue_dot_x, tr_blue_dot_y, "2", BLUE)
dots(tr_red_dot_x, tr_red_dot_y, "2", RED)
line(tr_blue_x, tr_blue_y, "2", BLUE, 2.2)
line(tr_red_x, tr_red_y, "2", RED, 2.2)
# middle-left
line(cn_pos, cn_val, "3", "#111111", 0.9, legend_names[1])
# middle-right
dots(mr_blue_dot_x, mr_blue_dot_y, "4", BLUE)
dots(mr_red_dot_x, mr_red_dot_y, "4", RED)
line(mr_blue_pos, mr_blue_val, "4", BLUE, 2.5)
line(mr_red_pos, mr_red_val, "4", RED, 2.5)
# bottom-left
line(f1_min, f1_val, "5", GREY_LINE, 1, legend_names[2])
# bottom-right
line(br_red_x, br_red_y, "6", RED, 2)
line(br_blue_x, br_blue_y, "6", BLUE, 2)
dots(br_red_dot_x, br_red_dot_y, "6", RED, 2.5)
dots(br_blue_dot_x, br_blue_dot_y, "6", BLUE, 2.5)

W, H = 1117, 544
LX = [43 / W, 477 / W]
RX = [636 / W, 1068 / W]
ROWS = [[1 - 155 / H, 1 - 26 / H], [1 - 334 / H, 1 - 206 / H], [1 - 514 / H, 1 - 385 / H]]

tickfont = dict(family="Liberation Sans, Arial, sans-serif", size=16, color="#262626")
common = dict(showline=True, linecolor="#8c8c8c", linewidth=1, mirror="ticks", ticks="inside",
              ticklen=4, tickcolor="#8c8c8c", showgrid=False, zeroline=False, tickfont=tickfont,
              fixedrange=True, automargin=False)

def xax(dom, rng, vals, text, anchor):
    return dict(domain=dom, range=rng, tickmode="array", tickvals=vals, ticktext=text, anchor=anchor,
                ticklabelstandoff=2, **common)

def yax(dom, rng, vals, text, anchor):
    return dict(domain=dom, range=rng, tickmode="array", tickvals=vals, ticktext=text, anchor=anchor,
                ticklabelstandoff=4, **common)

unit_vals = [0, 0.5, 1]
unit_text = ["0", "0.5", "1"]

fig.update_layout(
    width=W, height=H, autosize=False,
    margin=dict(l=0, r=0, t=0, b=0, autoexpand=False),
    paper_bgcolor="white", plot_bgcolor="white",
    xaxis=xax(LX, [0, 168], [0, 168], week_ticks, "y"),
    yaxis=yax(ROWS[0], [0, 1], unit_vals, unit_text, "x"),
    xaxis2=xax(RX, [0, 168], [0, 168], week_ticks, "y2"),
    yaxis2=yax(ROWS[0], [0, 1], unit_vals, unit_text, "x2"),
    xaxis3=xax(LX, [0, 100], [0, 100], month_ticks, "y3"),
    yaxis3=yax(ROWS[1], [0, 1], unit_vals, unit_text, "x3"),
    xaxis4=xax(RX, [0, 100], [0, 100], month_ticks, "y4"),
    yaxis4=yax(ROWS[1], [0, 1], unit_vals, unit_text, "x4"),
    xaxis5=xax(LX, [0, 60], [0, 60], minute_ticks, "y5"),
    yaxis5=yax(ROWS[2], [0, 0.05], [0, 0.02, 0.04], ["0", "0.02", "0.04"], "x5"),
    xaxis6=xax(RX, [0, 60], [0, 60], minute_ticks, "y6"),
    yaxis6=yax(ROWS[2], [0, 1], unit_vals, unit_text, "x6"),
    showlegend=False,
)

# Hand-drawn legend boxes (MATLAB style): box, short line sample, label
serif = "Liberation Serif, Times New Roman, serif"
legend_boxes = [(397, 39, 468, 63), (356, 212, 468, 235), (373, 392, 468, 414)]
legend_lines = [(403, 433), (362, 396), (378, 412)]
legend_colors = [GREY_LINE, "#111111", GREY_LINE]
for (x0, y0, x1, y1), (lx0, lx1), name, col in zip(legend_boxes, legend_lines, legend_names, legend_colors):
    fig.add_shape(type="rect", xref="paper", yref="paper", x0=x0 / W, x1=x1 / W, y0=1 - y1 / H, y1=1 - y0 / H,
                  line=dict(color="#6e6e6e", width=1), fillcolor="white", layer="above")
    ym = 1 - (y0 + y1) / 2 / H
    fig.add_shape(type="line", xref="paper", yref="paper", x0=lx0 / W, x1=lx1 / W, y0=ym, y1=ym,
                  line=dict(color=col, width=1), layer="above")
    fig.add_annotation(text=name, x=(lx1 + 5) / W, y=ym, xref="paper", yref="paper", showarrow=False,
                       xanchor="left", yanchor="middle", font=dict(family=serif, size=16, color="#262626"))

title_font = dict(family=serif, size=20, color="#262626")
fig.add_annotation(text="Dynamics of <i>y</i><sub><i>t</i></sub>", x=(LX[0] + LX[1]) / 2, y=1 - 11 / H,
                   xref="paper", yref="paper", showarrow=False, font=title_font, xanchor="center", yanchor="middle")
fig.add_annotation(text="Dynamics of <i>q</i><sub><i>t</i></sub> (blue) and <i>c</i><sub><i>t</i></sub> (red)",
                   x=(RX[0] + RX[1]) / 2, y=1 - 11 / H,
                   xref="paper", yref="paper", showarrow=False, font=title_font, xanchor="center", yanchor="middle")

fig.write_html("out.html")
